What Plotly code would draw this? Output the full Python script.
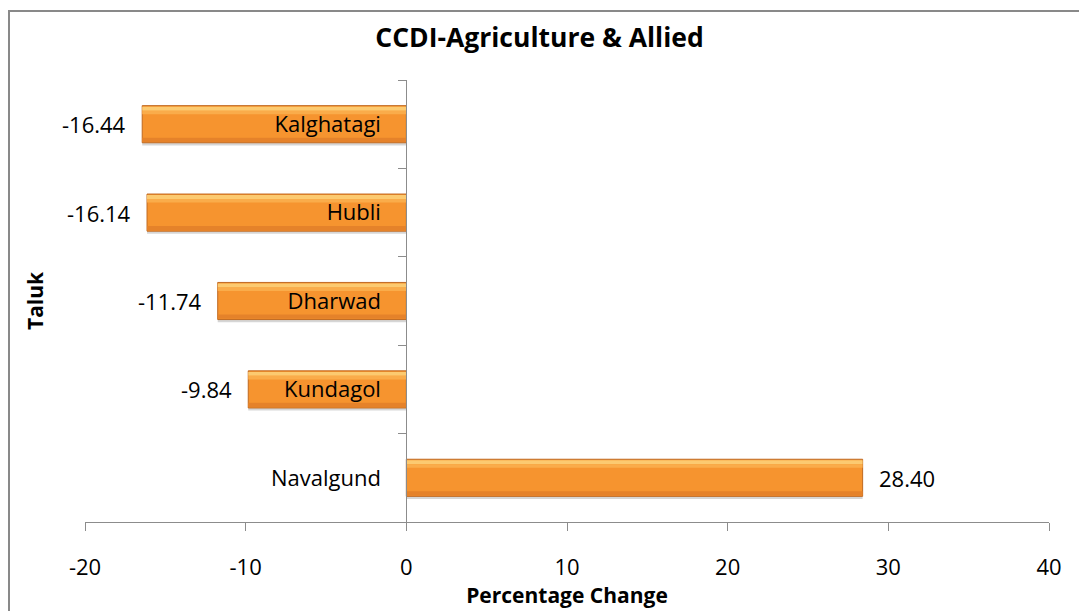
import plotly.graph_objects as go

talukas = ["Kalghatagi", "Hubli", "Dharwad", "Kundagol", "Navalgund"]
pct_change = [-16.44, -16.14, -11.74, -9.84, 28.40]
x_ticks = [-20, -10, 0, 10, 20, 30, 40]
x_tick_labels = ["-20", "-10", "0", "10", "20", "30", "40"]

FONT = "Open Sans"
BW = 0.42

fig = go.Figure()


def bar_layer(width, offset, color, line_color=None, hover=False):
    fig.add_trace(go.Bar(
        y=talukas, x=pct_change, orientation="h", width=width, offset=offset,
        marker=dict(color=color,
                    line=dict(color=line_color or color, width=1 if line_color else 0)),
        hoverinfo="x+y" if hover else "skip", showlegend=False))


bar_layer(BW, -BW/2 + 0.03, "rgba(0,0,0,0.16)")            # soft shadow
bar_layer(BW, -BW/2, "#F6942F", "#C06A22", hover=True)     # body
bar_layer(0.045, -BW/2 + 0.012, "#FCCA70")                 # top highlight
bar_layer(0.04, -BW/2 + 0.057, "#FAAC4A")                  # highlight fade
bar_layer(0.05, BW/2 - 0.058, "#E5822A")                   # lower shade

fig.update_layout(
    width=1079, height=611,
    margin=dict(l=85, r=30, t=80, b=89),
    paper_bgcolor="white", plot_bgcolor="white",
    barmode="overlay",
    title=dict(text="<b>CCDI-Agriculture & Allied</b>", x=0.5, xanchor="center",
               y=1 - 38/611, yanchor="middle", font=dict(family=FONT, size=26.5, color="#000000")),
    xaxis=dict(range=[-20, 40], tickvals=x_ticks, ticktext=x_tick_labels,
               showgrid=False, zeroline=False,
               showline=True, linecolor="#8C8C8C", linewidth=1,
               ticks="outside", ticklen=8, tickcolor="#8C8C8C",
               ticklabelstandoff=18,
               tickfont=dict(family=FONT, size=22, color="#000000"),
               title=dict(text="<b>Percentage Change</b>", standoff=2,
                          font=dict(family=FONT, size=21, color="#000000"))),
    yaxis=dict(autorange="reversed", anchor="free", position=20/60,
               showgrid=False, zeroline=False, showline=True, linecolor="#8C8C8C", linewidth=1,
               ticks="outside", ticklen=8, tickcolor="#8C8C8C", tickson="boundaries",
               ticklabelstandoff=21,
               tickfont=dict(family=FONT, size=22, color="#000000"), layer="above traces"),
    shapes=[dict(type="rect", xref="paper", yref="paper",
                 x0=(9-85)/964, x1=1.2, y0=-0.5, y1=(522-11)/442,
                 line=dict(color="#898989", width=2), layer="below")],
)
fig.add_annotation(text="<b>Taluk</b>", xref="paper", yref="paper",
                   x=(35-85)/964, y=0.5, xanchor="center", yanchor="middle",
                   textangle=-90, showarrow=False,
                   font=dict(family=FONT, size=21, color="#000000"))
for t, v in zip(talukas, pct_change):
    fig.add_annotation(x=v, y=t, text=f"{v:.2f}", showarrow=False,
                       xanchor="right" if v < 0 else "left",
                       xshift=-14 if v < 0 else 14,
                       font=dict(family=FONT, size=22, color="#000000"))

fig.write_html("out.html", config={"displayModeBar": False},
               post_script="document.body.style.margin='0';")
